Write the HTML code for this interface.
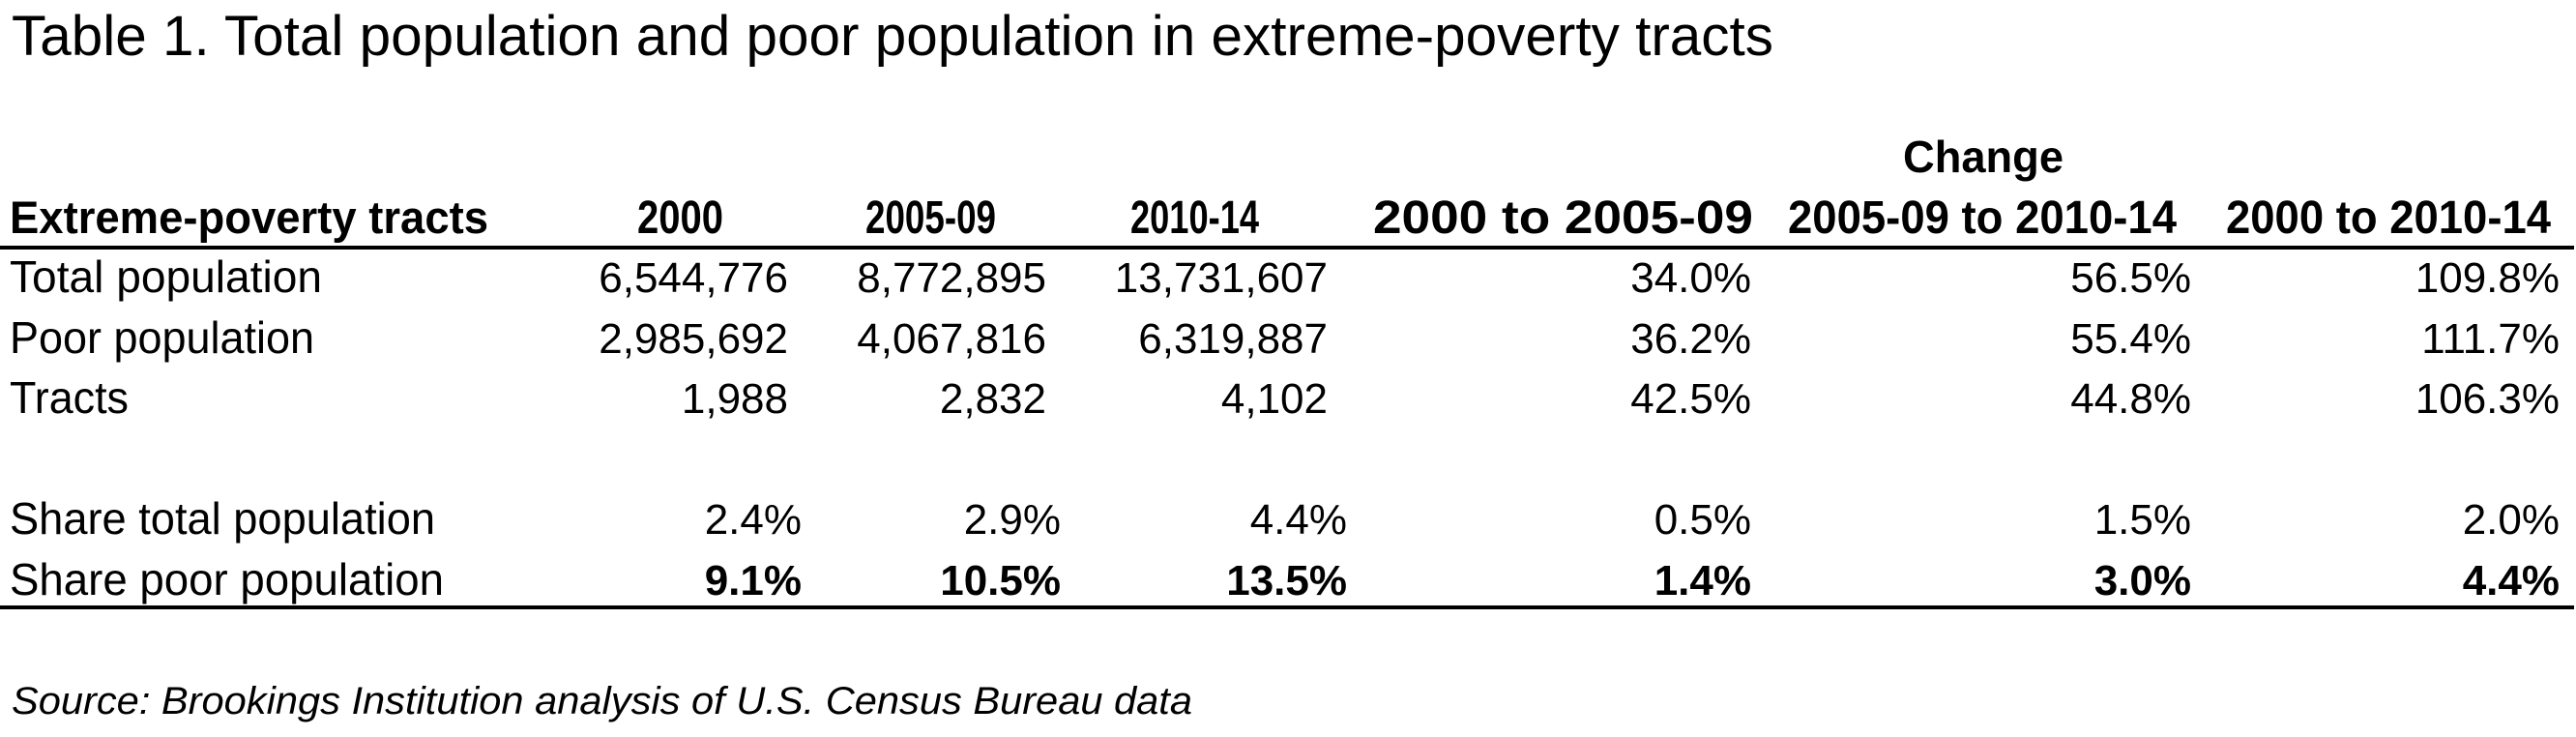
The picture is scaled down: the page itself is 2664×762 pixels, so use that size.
<!DOCTYPE html>
<html>
<head>
<meta charset="utf-8">
<style>
  html,body{margin:0;padding:0;background:#fff;}
  body{width:2664px;height:762px;overflow:hidden;}
  svg{display:block;font-family:"Liberation Sans",Arial,sans-serif;}
</style>
</head>
<body>
<svg id="tbl" width="2664" height="762" viewBox="0 0 2664 762" xmlns="http://www.w3.org/2000/svg">
  <text x="12" y="57" font-size="58" textLength="1822" lengthAdjust="spacingAndGlyphs">Table 1. Total population and poor population in extreme-poverty tracts</text>
  <text x="2051" y="178" font-size="46" font-weight="bold" text-anchor="middle" textLength="166" lengthAdjust="spacingAndGlyphs">Change</text>
  <text x="10" y="241" font-size="47" font-weight="bold" textLength="495" lengthAdjust="spacingAndGlyphs">Extreme-poverty tracts</text>
  <g id="hdrs"></g>
  <rect x="0" y="254" width="2662" height="4" fill="#000"/>
  <g id="rows"></g>
  <rect x="0" y="626" width="2662" height="4" fill="#000"/>
  <text x="12" y="738" font-size="40" font-style="italic" textLength="1221" lengthAdjust="spacingAndGlyphs">Source: Brookings Institution analysis of U.S. Census Bureau data</text>
</svg>
<script>
const columnHeaders = ["2000","2005-09","2010-14","2000 to 2005-09","2005-09 to 2010-14","2000 to 2010-14"];
const rowLabels = ["Total population","Poor population","Tracts","Share total population","Share poor population"];
const totalPopulation = ["6,544,776","8,772,895","13,731,607","34.0%","56.5%","109.8%"];
const poorPopulation = ["2,985,692","4,067,816","6,319,887","36.2%","55.4%","111.7%"];
const tracts = ["1,988","2,832","4,102","42.5%","44.8%","106.3%"];
const shareTotal = ["2.4%","2.9%","4.4%","0.5%","1.5%","2.0%"];
const sharePoor = ["9.1%","10.5%","13.5%","1.4%","3.0%","4.4%"];

const NS = "http://www.w3.org/2000/svg";
const hdrSpan = [[659,748],[895,1030],[1169,1302],[1420,1813],[1849,2251],[2302,2638]];
const labelWidth = [323,315,123,440,449];
const numRight = [815,1082,1373,1811,2266,2647];
const pctRight = [829,1097,1393,1811,2266,2647];
const rowY = [302,365,427,552,615];
const rows = [totalPopulation, poorPopulation, tracts, shareTotal, sharePoor];

const hdrs = document.getElementById('hdrs');
columnHeaders.forEach((h,i)=>{
  const t = document.createElementNS(NS,'text');
  
  
  t.setAttribute('x', hdrSpan[i][0]);
  t.setAttribute('y', 241);
  t.setAttribute('font-size', 48);
  t.setAttribute('font-weight', 'bold');
  t.setAttribute('textLength', hdrSpan[i][1]-hdrSpan[i][0]);
  t.setAttribute('lengthAdjust', 'spacingAndGlyphs');
  t.textContent = h;
  hdrs.appendChild(t);
});

const body = document.getElementById('rows');
rows.forEach((vals,r)=>{
  const g = document.createElementNS(NS,'g');
  
  
  const lbl = document.createElementNS(NS,'text');
  
  
  lbl.setAttribute('x', 10);
  lbl.setAttribute('y', rowY[r]);
  lbl.setAttribute('font-size', 46);
  lbl.setAttribute('textLength', labelWidth[r]);
  lbl.setAttribute('lengthAdjust', 'spacingAndGlyphs');
  lbl.textContent = rowLabels[r];
  g.appendChild(lbl);
  vals.forEach((v,c)=>{
    const t = document.createElementNS(NS,'text');
    
    
    const isPct = v.indexOf('%') >= 0;
    t.setAttribute('x', isPct ? pctRight[c] : numRight[c]);
    t.setAttribute('y', rowY[r]);
    t.setAttribute('font-size', 44);
    t.setAttribute('text-anchor', 'end');
    if (r === 4) t.setAttribute('font-weight', 'bold');
    t.textContent = v;
    g.appendChild(t);
  });
  body.appendChild(g);
});
</script>
</body>
</html>
